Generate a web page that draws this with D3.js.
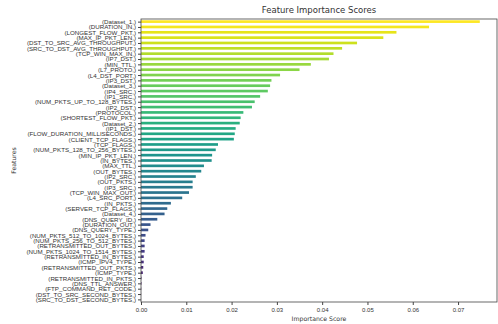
<!DOCTYPE html>
<html>
<head>
<meta charset="utf-8">
<script src="https://cdn.jsdelivr.net/npm/d3@7"></script>
<style>
  body { margin: 0; background: #fff; }
  svg { font-family: "DejaVu Sans", sans-serif; }
  .axis path, .axis line { stroke: #444; }
  .axis text { fill: #333; }
</style>
</head>
<body>
<div id="chart"></div>
<script>
// features, most important first
const features = [
  'Dataset_1', 'DURATION_IN', 'LONGEST_FLOW_PKT', 'MAX_IP_PKT_LEN',
  'DST_TO_SRC_AVG_THROUGHPUT', 'SRC_TO_DST_AVG_THROUGHPUT', 'TCP_WIN_MAX_IN',
  'IP7_DST', 'MIN_TTL', 'L7_PROTO', 'L4_DST_PORT', 'IP3_DST', 'Dataset_3',
  'IP4_SRC', 'IP1_SRC', 'NUM_PKTS_UP_TO_128_BYTES', 'IP2_DST', 'PROTOCOL',
  'SHORTEST_FLOW_PKT', 'Dataset_2', 'IP1_DST', 'FLOW_DURATION_MILLISECONDS',
  'CLIENT_TCP_FLAGS', 'TCP_FLAGS', 'NUM_PKTS_128_TO_256_BYTES', 'MIN_IP_PKT_LEN',
  'IN_BYTES', 'MAX_TTL', 'OUT_BYTES', 'IP2_SRC', 'OUT_PKTS', 'IP3_SRC',
  'TCP_WIN_MAX_OUT', 'L4_SRC_PORT', 'IN_PKTS', 'SERVER_TCP_FLAGS', 'Dataset_4',
  'DNS_QUERY_ID', 'DURATION_OUT', 'DNS_QUERY_TYPE', 'NUM_PKTS_512_TO_1024_BYTES',
  'NUM_PKTS_256_TO_512_BYTES', 'RETRANSMITTED_OUT_BYTES',
  'NUM_PKTS_1024_TO_1514_BYTES', 'RETRANSMITTED_IN_BYTES', 'ICMP_IPV4_TYPE',
  'RETRANSMITTED_OUT_PKTS', 'ICMP_TYPE', 'RETRANSMITTED_IN_PKTS',
  'DNS_TTL_ANSWER', 'FTP_COMMAND_RET_CODE', 'DST_TO_SRC_SECOND_BYTES',
  'SRC_TO_DST_SECOND_BYTES'
];

const scores = [
  0.0748, 0.0636, 0.0564, 0.0535, 0.0477, 0.0444, 0.0425, 0.0415, 0.0375, 0.0350,
  0.0307, 0.0288, 0.0285, 0.0280, 0.0263, 0.0251, 0.0245, 0.0226, 0.0220, 0.0218,
  0.0209, 0.0207, 0.0205, 0.0170, 0.0165, 0.0157, 0.0156, 0.0139, 0.0133, 0.0121,
  0.0114, 0.0114, 0.0106, 0.0091, 0.0066, 0.0058, 0.0052, 0.0036, 0.0021, 0.0016,
  0.0010, 0.0008, 0.0008, 0.0008, 0.0006, 0.0006, 0.0005, 0.0004, 0.0001, 0.0001,
  0.00005, 0.00002, 0.00001
];

const xTicks = [0, 0.01, 0.02, 0.03, 0.04, 0.05, 0.06, 0.07];

const width = 498;
const height = 324;
const plot = { left: 141, right: 497, top: 19, bottom: 302 };

const svg = d3.select('#chart')
  .append('svg')
  .attr('width', width)
  .attr('height', height);

const x = d3.scaleLinear()
  .domain([0, 0.0786])
  .range([plot.left, plot.right]);

const y = d3.scalePoint()
  .domain(features)
  .range([plot.top, plot.bottom])
  .padding(0.49);

const barH = y.step() * 0.5;
const n = features.length;

svg.append('g')
  .selectAll('rect')
  .data(features)
  .join('rect')
  .attr('x', x(0))
  .attr('y', d => y(d) - barH / 2)
  .attr('width', (d, i) => x(scores[i]) - x(0))
  .attr('height', barH)
  .attr('fill', (d, i) => d3.interpolateViridis(1 - i / (n - 1)));

// x axis
const xAxis = svg.append('g')
  .attr('class', 'axis')
  .attr('transform', 'translate(0,' + plot.bottom + ')')
  .call(d3.axisBottom(x).tickValues(xTicks).tickFormat(d3.format('.2f')).tickSize(3).tickPadding(3));
xAxis.select('.domain').remove();
xAxis.selectAll('text').attr('font-size', 6);

// y axis - labels are packed tighter than their height, as in the original
const yAxis = svg.append('g')
  .attr('class', 'axis')
  .attr('transform', 'translate(' + plot.left + ',0)')
  .call(d3.axisLeft(y).tickFormat(d => '(' + d + ',)').tickSize(3).tickPadding(2));
yAxis.select('.domain').remove();
yAxis.selectAll('text').attr('font-size', 6.2);

// frame
svg.append('rect')
  .attr('x', plot.left)
  .attr('y', plot.top)
  .attr('width', plot.right - plot.left)
  .attr('height', plot.bottom - plot.top)
  .attr('fill', 'none')
  .attr('stroke', '#444')
  .attr('stroke-width', 0.8);

svg.append('text')
  .attr('x', (plot.left + plot.right) / 2)
  .attr('y', 13)
  .attr('text-anchor', 'middle')
  .attr('font-size', 8.5)
  .attr('fill', '#333')
  .text('Feature Importance Scores');

svg.append('text')
  .attr('x', (plot.left + plot.right) / 2)
  .attr('y', 321)
  .attr('text-anchor', 'middle')
  .attr('font-size', 6.2)
  .attr('fill', '#333')
  .text('Importance Score');

svg.append('text')
  .attr('transform', 'translate(16,' + ((plot.top + plot.bottom) / 2) + ') rotate(-90)')
  .attr('text-anchor', 'middle')
  .attr('font-size', 6.2)
  .attr('fill', '#333')
  .text('Features');
</script>
</body>
</html>
